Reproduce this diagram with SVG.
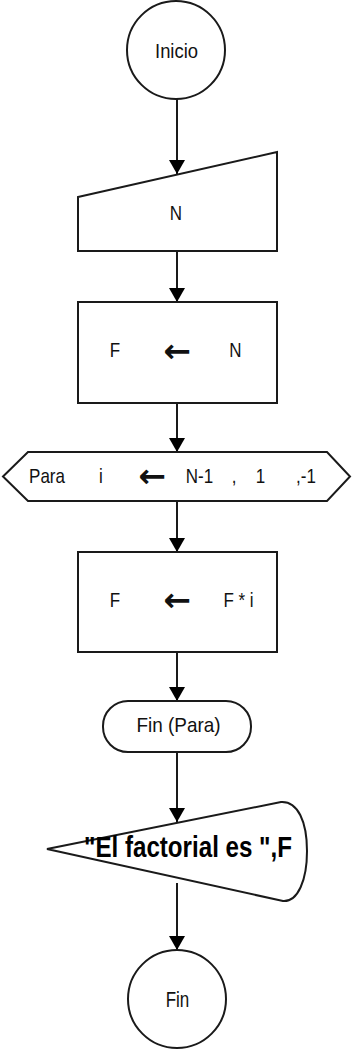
<svg xmlns="http://www.w3.org/2000/svg" width="352" height="1053" viewBox="0 0 352 1053">
<style>
.sh{fill:#fff;stroke:#1a1a1a;stroke-width:2}
.cn{fill:none;stroke:#1a1a1a;stroke-width:2}
.t{font-family:"Liberation Sans",Arial,sans-serif;font-size:17px;fill:#111;text-anchor:middle}
.b{font-family:"Liberation Sans",Arial,sans-serif;font-size:24px;font-weight:bold;fill:#000;text-anchor:middle}
.ar{font-family:"DejaVu Sans",sans-serif;font-size:33px;fill:#111;text-anchor:middle;font-weight:bold}
</style>
<defs>
<marker id="ah" viewBox="0 -8 14 16" refX="14" refY="0" markerWidth="14" markerHeight="16" markerUnits="userSpaceOnUse" orient="auto">
<path d="M0,-8 L14,0 L0,8 Z" fill="#000"/>
</marker>
</defs>
<rect width="352" height="1053" fill="#fff"/>
<g id="connectors">
<line class="cn" x1="177" y1="99" x2="177" y2="174" marker-end="url(#ah)"/>
<line class="cn" x1="177" y1="251" x2="177" y2="302" marker-end="url(#ah)"/>
<line class="cn" x1="177" y1="403" x2="177" y2="452" marker-end="url(#ah)"/>
<line class="cn" x1="177" y1="501" x2="177" y2="552" marker-end="url(#ah)"/>
<line class="cn" x1="177" y1="652" x2="177" y2="701" marker-end="url(#ah)"/>
<line class="cn" x1="177" y1="752" x2="177" y2="822" marker-end="url(#ah)"/>
<line class="cn" x1="177" y1="883" x2="177" y2="950" marker-end="url(#ah)"/>
</g>
<g id="inicio">
<circle class="sh" cx="176" cy="50" r="49"/>
<text class="t" transform="translate(176.5 58) scale(1 1.15)" textLength="43" lengthAdjust="spacingAndGlyphs">Inicio</text>
</g>
<g id="leer-n">
<path class="sh" d="M78,197 L277,152 L277,251 L78,251 Z"/>
<text class="t" transform="translate(176 220) scale(1 1.2)">N</text>
</g>
<g id="asignar-f-n">
<rect class="sh" x="78" y="302" width="199" height="101"/>
<text class="t" transform="translate(115 357) scale(1 1.2)">F</text>
<text class="ar" x="177" y="362">←</text>
<text class="t" transform="translate(235.5 357) scale(1 1.2)">N</text>
</g>
<g id="para">
<path class="sh" d="M3,476.5 L28,452 L327,452 L350,476.5 L327,501 L28,501 Z"/>
<text class="t" transform="translate(47 483) scale(1 1.2)">Para</text>
<text class="t" transform="translate(101 483) scale(1 1.2)">i</text>
<text class="ar" x="152" y="487">←</text>
<text class="t" transform="translate(199.5 483) scale(1 1.2)">N-1</text>
<text class="t" transform="translate(234 483) scale(1 1.2)">,</text>
<text class="t" transform="translate(260.5 483) scale(1 1.2)">1</text>
<text class="t" transform="translate(306 483) scale(1 1.2)">,-1</text>
</g>
<g id="asignar-f-fi">
<rect class="sh" x="78" y="552" width="199" height="100"/>
<text class="t" transform="translate(115 607) scale(1 1.2)">F</text>
<text class="ar" x="177" y="611">←</text>
<text class="t" transform="translate(238.5 607) scale(1 1.2)">F * i</text>
</g>
<g id="fin-para">
<rect class="sh" x="103" y="701" width="148" height="51" rx="25" ry="25"/>
<text class="t" transform="translate(178.5 732) scale(1 1.2)" textLength="84" lengthAdjust="spacingAndGlyphs">Fin (Para)</text>
</g>
<g id="mostrar">
<path class="sh" d="M47,849 L281,802 C298,801 307,822 307,851 C307,880 298,902 283,901 Z"/>
<text class="b" transform="translate(188 857) scale(1 1.25)" textLength="208" lengthAdjust="spacingAndGlyphs">"El factorial es ",F</text>
</g>
<g id="fin">
<circle class="sh" cx="177" cy="999" r="49"/>
<text class="t" transform="translate(177.5 1007) scale(1 1.25)">Fin</text>
</g>
</svg>
